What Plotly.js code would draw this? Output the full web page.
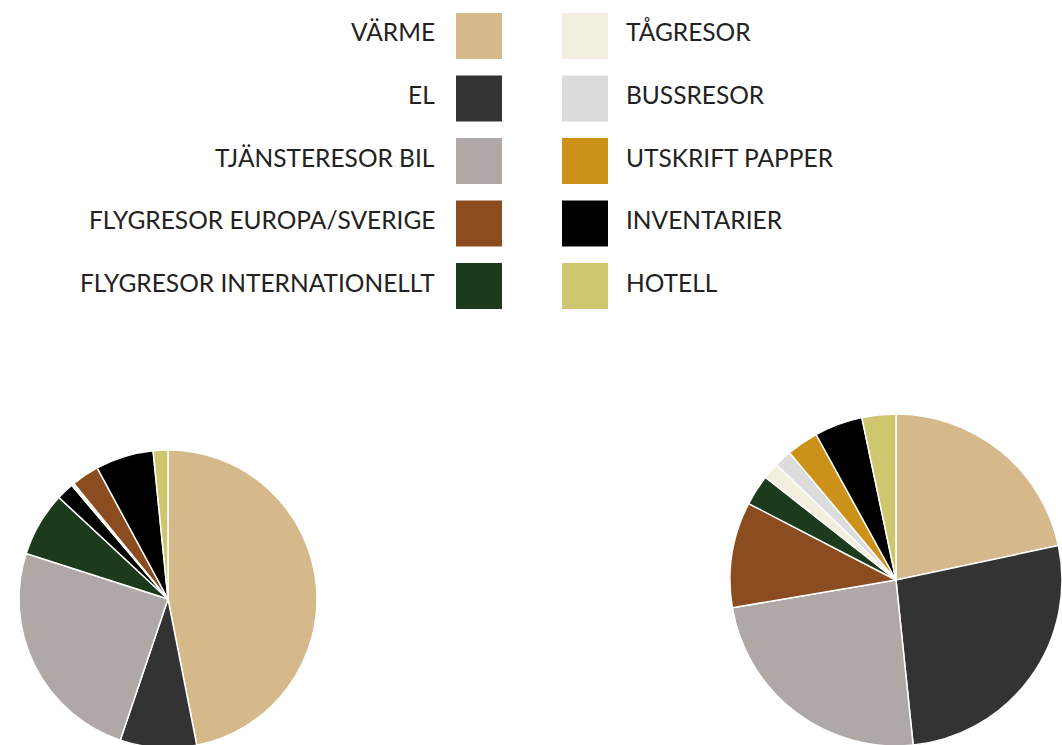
<!DOCTYPE html>
<html>
<head>
<meta charset="utf-8">
<script src="https://cdn.plot.ly/plotly-3.0.1.min.js"></script>
<style>
html,body{margin:0;padding:0;overflow:hidden;background:#fff;}
#chart{width:1062px;height:750px;}
</style>
</head>
<body>
<div id="chart"></div>
<script>
// Legend categories and colours
const categories = ['VÄRME','EL','TJÄNSTERESOR BIL','FLYGRESOR EUROPA/SVERIGE','FLYGRESOR INTERNATIONELLT','TÅGRESOR','BUSSRESOR','UTSKRIFT PAPPER','INVENTARIER','HOTELL'];
const categoryColors = ['#d6b98a','#333333','#b0a8a6','#8b4c1f','#1c3a1c','#f2efdf','#dcdcdc','#cb9119','#000000','#cfc76f'];

// Left pie (slice order as drawn)
const leftLabels = ['VÄRME','EL','TJÄNSTERESOR BIL','FLYGRESOR INTERNATIONELLT','ÖVRIGT','TÅGRESOR','FLYGRESOR EUROPA/SVERIGE','INVENTARIER','HOTELL'];
const leftValues = [47.0, 8.3, 24.8, 7.0, 1.9, 0.3, 3.0, 6.3, 1.6];

// Right pie
const rightLabels = ['VÄRME','EL','TJÄNSTERESOR BIL','FLYGRESOR EUROPA/SVERIGE','FLYGRESOR INTERNATIONELLT','TÅGRESOR','BUSSRESOR','UTSKRIFT PAPPER','INVENTARIER','HOTELL'];
const rightValues = [21.7, 26.7, 24.0, 10.3, 3.0, 1.6, 1.7, 3.1, 4.7, 3.3];

const W = 1062, H = 750;
const colorOf = l => { const i = categories.indexOf(l); return i >= 0 ? categoryColors[i] : '#000000'; };

const pieBase = {
  type: 'pie', sort: false, direction: 'clockwise', rotation: 0,
  textinfo: 'none', hoverinfo: 'label+percent', showlegend: false
};

const traces = [
  Object.assign({}, pieBase, {
    labels: leftLabels, values: leftValues,
    marker: {colors: leftLabels.map(colorOf), line: {color: '#ffffff', width: 1.5}},
    domain: {x: [19/W, 317/W], y: [1-748/H, 1-450/H]}
  }),
  Object.assign({}, pieBase, {
    labels: rightLabels, values: rightValues,
    marker: {colors: rightLabels.map(colorOf), line: {color: '#ffffff', width: 1.5}},
    domain: {x: [730/W, 1062/W], y: [1-746/H, 1-414/H]}
  })
];

// Custom two-column legend
const shapes = [], annotations = [];
const rowTop = [13, 75.5, 138, 200.5, 263];
const box = 46;
const fontSpec = {family: 'Lato, "Open Sans", sans-serif', size: 24.5, color: '#222222'};
categories.forEach((c, i) => {
  const col = Math.floor(i / 5), row = i % 5;
  const top = rowTop[row];
  const bx = col === 0 ? 456 : 562;
  shapes.push({type: 'rect', xref: 'paper', yref: 'paper',
    x0: bx/W, x1: (bx+box)/W, y0: 1-(top+box)/H, y1: 1-top/H,
    fillcolor: categoryColors[i], line: {width: 0}});
  annotations.push({xref: 'paper', yref: 'paper', showarrow: false,
    x: col === 0 ? 437/W : 624/W, xanchor: col === 0 ? 'right' : 'left',
    y: 1-(top+19)/H, yanchor: 'middle', text: c, font: fontSpec});
});

Plotly.newPlot('chart', traces, {
  width: W, height: H,
  margin: {l: 0, r: 0, t: 0, b: 0},
  paper_bgcolor: '#ffffff',
  shapes: shapes, annotations: annotations
}, {displayModeBar: false, staticPlot: true});
</script>
</body>
</html>
